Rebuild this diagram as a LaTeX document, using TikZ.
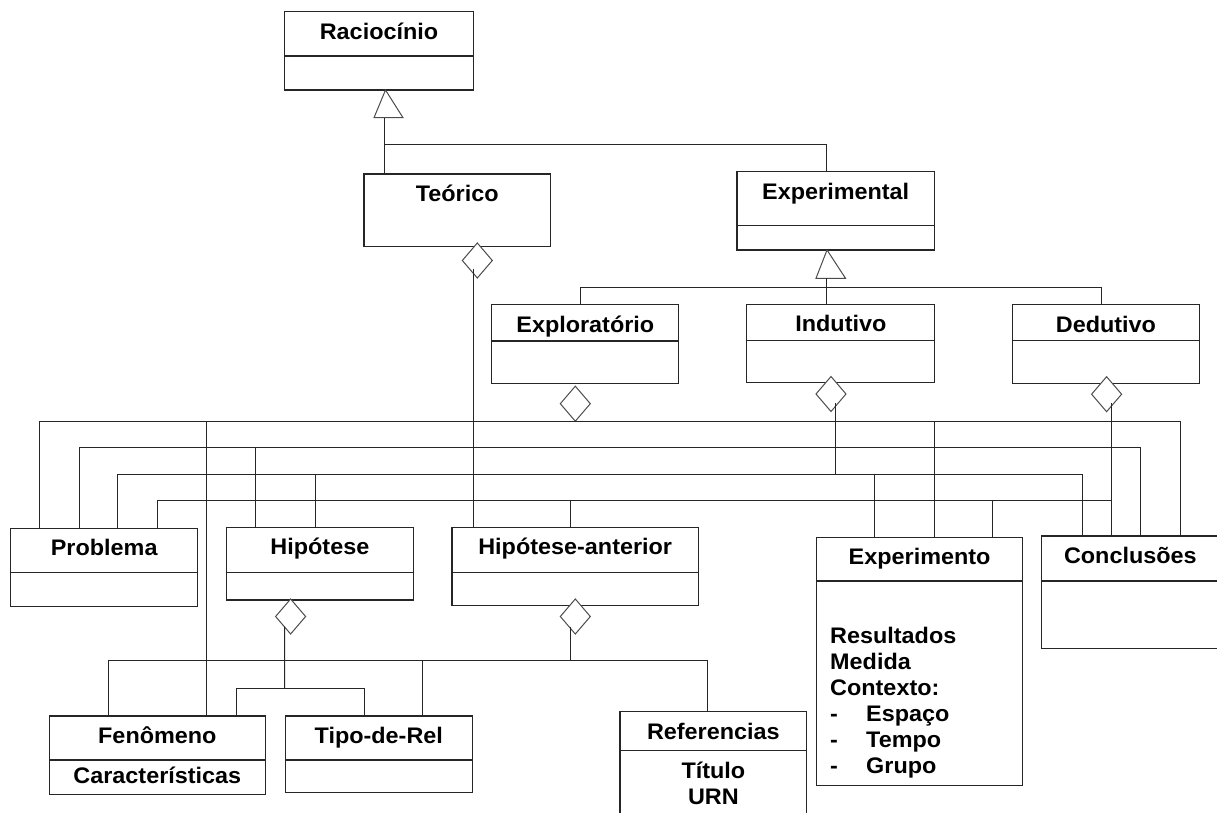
\documentclass[tikz,border=0pt]{standalone}
\usepackage{fontspec}
\setmainfont{Liberation Sans}[FakeStretch=1.04]
\usetikzlibrary{shapes.geometric}
\begin{document}
\begin{tikzpicture}[x=1pt,y=-1pt,
  ln/.style={draw=black!85, line width=1pt},
  comp/.style={draw=black!85, line width=1.1pt, rectangle, inner sep=0pt, outer sep=0pt, anchor=north west},
  lower/.style={comp, anchor=north},
  ttl/.style={font=\fontsize{22.5}{26}\selectfont\bfseries, anchor=base, inner sep=0pt},
  bodyl/.style={font=\fontsize{22.5}{26}\selectfont\bfseries, anchor=base west, inner sep=0pt},
  diam/.style={diamond, draw=black!70, line width=1pt, fill=white, inner sep=0pt, outer sep=0pt, minimum width=30pt, minimum height=35pt},
  gen/.style={draw=black!70, line width=1pt, fill=white, line join=miter}]
\useasboundingbox (0,0) rectangle (1217,813);
\clip (0,0) rectangle (1217,813);

% ---------- boxes ----------
\node[comp, minimum width=188.4pt, minimum height=44.3pt] (racT) at (284.8,11.7) {};
\node[lower, minimum width=188.4pt, minimum height=34pt] (racB) at (racT.south) {};
\node[ttl] at ([yshift=-27.5pt]racT.north) {Raciocínio};

\node[comp, minimum width=186.5pt, minimum height=72.7pt] (teo) at (364,174) {};
\node[ttl] at ([yshift=-27.5pt]teo.north) {Teórico};

\node[comp, minimum width=197.4pt, minimum height=54pt] (expT) at (737,171.7) {};
\node[lower, minimum width=197.4pt, minimum height=24.3pt] (expB) at (expT.south) {};
\node[ttl] at ([yshift=-27.5pt]expT.north) {Experimental};

\node[comp, minimum width=186.8pt, minimum height=36.5pt] (exploT) at (491.9,304.5) {};
\node[lower, minimum width=186.8pt, minimum height=42.5pt] (exploB) at (exploT.south) {};
\node[ttl] at ([yshift=-27.5pt]exploT.north) {Exploratório};

\node[comp, minimum width=188.1pt, minimum height=36.5pt] (indT) at (746.8,304.2) {};
\node[lower, minimum width=188.1pt, minimum height=42pt] (indB) at (indT.south) {};
\node[ttl] at ([yshift=-27.5pt]indT.north) {Indutivo};

\node[comp, minimum width=187pt, minimum height=36.3pt] (dedT) at (1012.4,304.5) {};
\node[lower, minimum width=187pt, minimum height=43pt] (dedB) at (dedT.south) {};
\node[ttl] at ([yshift=-27.5pt]dedT.north) {Dedutivo};

\node[comp, minimum width=187pt, minimum height=44.4pt] (probT) at (10.7,528.3) {};
\node[lower, minimum width=187pt, minimum height=34pt] (probB) at (probT.south) {};
\node[ttl] at ([yshift=-27.5pt]probT.north) {Problema};

\node[comp, minimum width=186.6pt, minimum height=45.4pt] (hipT) at (226.6,527.3) {};
\node[lower, minimum width=186.6pt, minimum height=27.3pt] (hipB) at (hipT.south) {};
\node[ttl] at ([yshift=-27.5pt]hipT.north) {Hipótese};

\node[comp, minimum width=246.4pt, minimum height=45.4pt] (hanT) at (452,527.3) {};
\node[lower, minimum width=246.4pt, minimum height=32.5pt] (hanB) at (hanT.south) {};
\node[ttl] at ([yshift=-27.5pt]hanT.north) {Hipótese-anterior};

\node[comp, minimum width=205.8pt, minimum height=43.7pt] (xpT) at (816.7,537.3) {};
\node[lower, minimum width=205.8pt, minimum height=204.7pt] (xpB) at (xpT.south) {};
\node[ttl] at ([yshift=-27.5pt]xpT.north) {Experimento};
\node[bodyl] (xp1) at ([xshift=13.3pt,yshift=-62.5pt]xpB.north west) {Resultados};
\node[bodyl] (xp2) at ([yshift=-26pt]xp1.base west) {Medida};
\node[bodyl] (xp3) at ([yshift=-26pt]xp2.base west) {Contexto:};
\node[bodyl] (xp4) at ([yshift=-26pt]xp3.base west) {\makebox[36pt][l]{-}Espaço};
\node[bodyl] (xp5) at ([yshift=-26pt]xp4.base west) {\makebox[36pt][l]{-}Tempo};
\node[bodyl] (xp6) at ([yshift=-26pt]xp5.base west) {\makebox[36pt][l]{-}Grupo};

\node[comp, minimum width=177.3pt, minimum height=45pt] (concT) at (1041.7,536) {};
\node[lower, minimum width=177.3pt, minimum height=67.3pt] (concB) at (concT.south) {};
\node[ttl] at ([yshift=-27.5pt]concT.north) {Conclusões};

\node[comp, minimum width=215.9pt, minimum height=44pt] (fenT) at (49.4,716) {};
\node[lower, minimum width=215.9pt, minimum height=34.3pt] (fenB) at (fenT.south) {};
\node[ttl] at ([yshift=-27.5pt]fenT.north) {Fenômeno};
\node[ttl] at ([yshift=-23.3pt]fenB.north) {Características};

\node[comp, minimum width=187.4pt, minimum height=44pt] (tipT) at (285.1,716) {};
\node[lower, minimum width=187.4pt, minimum height=32.7pt] (tipB) at (tipT.south) {};
\node[ttl] at ([yshift=-27.5pt]tipT.north) {Tipo-de-Rel};

\node[comp, minimum width=186.7pt, minimum height=38.6pt] (refT) at (620,711.7) {};
\node[lower, minimum width=186.7pt, minimum height=90pt] (refB) at (refT.south) {};
\node[ttl] at ([yshift=-27.5pt]refT.north) {Referencias};
\node[ttl] at ([yshift=-28pt]refB.north) {Título};
\node[ttl] at ([yshift=-53.7pt]refB.north) {URN};

% ---------- diamonds and triangles ----------
\node[diam] (dTeo) at (477.3,260.5) {};
\node[diam] (dExplo) at (575.3,403.7) {};
\node[diam] (dInd) at (831,394) {};
\node[diam] (dDed) at (1106.6,394.2) {};
\node[diam] (dHip) at (290.6,616.5) {};
\node[diam] (dHan) at (575.3,616.5) {};

\coordinate (tAl) at (374,117.7);
\coordinate (tAr) at (403,117.7);
\coordinate (tBl) at (816,278.3);
\coordinate (tBr) at (845.5,278.3);
\draw[gen] (racB.south -| 385.5,0) -- (tAl) -- (tAr) -- cycle;
\draw[gen] (expB.south -| 827,0) -- (tBl) -- (tBr) -- cycle;

% ---------- connectors ----------
\coordinate (tAb) at (384,117.7);
\coordinate (jA) at (384,145);
\draw[ln] (teo.north -| tAb) -- (tAb);
\draw[ln] (jA) -| (expT.north -| 826,0);

\coordinate (tBb) at (826,278.3);
\coordinate (jB) at (826,287.7);
\draw[ln] (tBb) -- (indT.north -| tBb);
\draw[ln] (exploT.north -| 580.2,0) |- (jB) -| (dedT.north -| 1101.8,0);

\draw[ln] ([xshift=-4pt,yshift=-8pt]dTeo.center) -- (hanT.north -| 473.3,0);

\coordinate (b1) at (0,421.3);
\draw[ln] (probT.north -| 39.9,0) |- (b1 -| 1180,0) -- (concT.north -| 1180,0);
\draw[ln] (b1 -| 206.8,0) -- (fenT.north -| 206.8,0);
\draw[ln] (b1 -| 934.9,0) -- (xpT.north -| 934.9,0);

\coordinate (b2) at (0,447.7);
\draw[ln] (probT.north -| 79.1,0) |- (b2 -| 1140.5,0) -- (concT.north -| 1140.5,0);
\draw[ln] (b2 -| 255.8,0) -- (hipT.north -| 255.8,0);

\coordinate (b3) at (0,474.3);
\draw[ln] (probT.north -| 117.8,0) |- (b3 -| 1082,0) -- (concT.north -| 1082,0);
\draw[ln] (b3 -| 315.6,0) -- (hipT.north -| 315.6,0);
\draw[ln] ([xshift=4.7pt,yshift=-9pt]dInd.center) -- (b3 -| 835.7,0);
\draw[ln] (b3 -| 874.7,0) -- (xpT.north -| 874.7,0);

\coordinate (b4) at (0,500.7);
\draw[ln] (probT.north -| 157.4,0) |- (b4 -| 1111.6,0);
\draw[ln] (b4 -| 570.2,0) -- (hanT.north -| 570.2,0);
\draw[ln] (b4 -| 992.8,0) -- (xpT.north -| 992.8,0);
\draw[ln] ([xshift=5pt,yshift=-9pt]dDed.center) -- (concT.north -| 1111.6,0);

\coordinate (b5) at (0,688.3);
\draw[ln] ([xshift=-5.9pt,yshift=-10pt]dHip.center) -- (b5 -| 284.7,0);
\draw[ln] (fenT.north -| 236,0) |- (b5 -| 364.2,0) -- (tipT.north -| 364.2,0);

\coordinate (b6) at (0,660.7);
\draw[ln] ([xshift=-5.1pt,yshift=-10pt]dHan.center) -- (b6 -| 570.2,0);
\draw[ln] (fenT.north -| 108.3,0) |- (b6 -| 707.8,0) -- (refT.north -| 707.8,0);
\draw[ln] (b6 -| 422.7,0) -- (tipT.north -| 422.7,0);
\end{tikzpicture}
\end{document}
